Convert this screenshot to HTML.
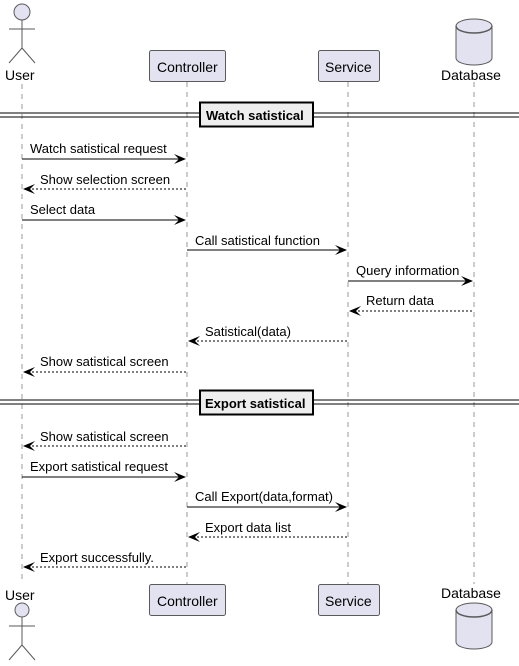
<!DOCTYPE html>
<html><head><meta charset="utf-8"><style>
html,body{margin:0;padding:0;background:#fff}
svg{display:block}
text{font-family:"Liberation Sans",sans-serif;font-size:13px;fill:#000}
.ll{stroke:#555;stroke-width:0.6;stroke-dasharray:5,5}
.box{fill:#e2e2f0;stroke:#5a5a5a;stroke-width:1}
.m{stroke:#000;stroke-width:1}
.d{stroke:#000;stroke-width:1;stroke-dasharray:2,2}
</style></head><body>
<svg width="519" height="666" viewBox="0 0 519 666" xmlns="http://www.w3.org/2000/svg">
<line class="ll" x1="22" y1="84" x2="22" y2="584"/>
<line class="ll" x1="187" y1="82" x2="187" y2="584"/>
<line class="ll" x1="348" y1="82" x2="348" y2="584"/>
<line class="ll" x1="474" y1="82" x2="474" y2="584"/>

<circle cx="22" cy="12" r="8" class="box"/>
<line x1="22" y1="20" x2="22" y2="48" stroke="#5a5a5a"/>
<line x1="9" y1="29" x2="35" y2="29" stroke="#5a5a5a"/>
<line x1="22" y1="48" x2="9" y2="63" stroke="#5a5a5a"/>
<line x1="22" y1="48" x2="35" y2="63" stroke="#5a5a5a"/>
<text x="5" y="80" style="font-size:14px">User</text>
<rect x="149.5" y="50.5" width="76" height="31" rx="2" class="box"/>
<text x="157" y="72" style="font-size:14px">Controller</text>
<rect x="318.5" y="50.5" width="61" height="31" rx="2" class="box"/>
<text x="325" y="72" style="font-size:14px">Service</text>
<path d="M456,26 a18,7 0 0 1 36,0 v32 a18,7 0 0 1 -36,0 z" class="box" stroke-width="1.5"/>
<path d="M456,26 a18,7 0 0 0 36,0" fill="none" stroke="#5a5a5a" stroke-width="1.5"/>
<text x="441" y="80" style="font-size:14px">Database</text>

<text x="5" y="600" style="font-size:14px">User</text>
<circle cx="22" cy="610" r="7" class="box"/>
<line x1="22" y1="617" x2="22" y2="645" stroke="#5a5a5a"/>
<line x1="9" y1="626" x2="35" y2="626" stroke="#5a5a5a"/>
<line x1="22" y1="645" x2="9" y2="660" stroke="#5a5a5a"/>
<line x1="22" y1="645" x2="35" y2="660" stroke="#5a5a5a"/>
<rect x="149.5" y="584.5" width="76" height="31" rx="2" class="box"/>
<text x="157" y="606" style="font-size:14px">Controller</text>
<rect x="318.5" y="584.5" width="61" height="31" rx="2" class="box"/>
<text x="325" y="606" style="font-size:14px">Service</text>
<text x="441" y="598" style="font-size:14px">Database</text>
<path d="M456,610 a18,7 0 0 1 36,0 v32 a18,7 0 0 1 -36,0 z" class="box" stroke-width="1.5"/>
<path d="M456,610 a18,7 0 0 0 36,0" fill="none" stroke="#5a5a5a" stroke-width="1.5"/>

<line x1="0" y1="113" x2="519" y2="113" stroke="#000"/>
<line x1="0" y1="117" x2="519" y2="117" stroke="#000"/>
<rect x="200" y="102.5" width="113" height="24" fill="#eee" stroke="#000" stroke-width="2"/>
<text x="206" y="120" style="font-weight:bold;font-size:13px">Watch satistical</text>
<line x1="0" y1="400" x2="519" y2="400" stroke="#000"/>
<line x1="0" y1="404" x2="519" y2="404" stroke="#000"/>
<rect x="200" y="390.5" width="113" height="24" fill="#eee" stroke="#000" stroke-width="2"/>
<text x="205" y="408" style="font-weight:bold;font-size:13px">Export satistical</text>

<g>
<line class="m" x1="22" y1="159" x2="185" y2="159"/><path d="M174,154 L186,159 L174,164 L179,159z"/>
<text x="30" y="153">Watch satistical request</text>

<line class="d" x1="24" y1="189" x2="187" y2="189"/><path d="M35,184 L23,189 L35,194 L30,189z"/>
<text x="40" y="184">Show selection screen</text>

<line class="m" x1="22" y1="220" x2="185" y2="220"/><path d="M174,215 L186,220 L174,225 L179,220z"/>
<text x="30" y="214">Select data</text>

<line class="m" x1="187" y1="250" x2="346" y2="250"/><path d="M335,245 L347,250 L335,255 L340,250z"/>
<text x="195" y="245">Call satistical function</text>

<line class="m" x1="348" y1="281" x2="472" y2="281"/><path d="M461,276 L473,281 L461,286 L466,281z"/>
<text x="356" y="275">Query information</text>

<line class="d" x1="350" y1="311" x2="474" y2="311"/><path d="M361,306 L349,311 L361,316 L356,311z"/>
<text x="366" y="305">Return data</text>

<line class="d" x1="189" y1="341" x2="348" y2="341"/><path d="M200,336 L188,341 L200,346 L195,341z"/>
<text x="205" y="336">Satistical(data)</text>

<line class="d" x1="24" y1="372" x2="187" y2="372"/><path d="M35,367 L23,372 L35,377 L30,372z"/>
<text x="40" y="366">Show satistical screen</text>

<line class="d" x1="24" y1="446" x2="187" y2="446"/><path d="M35,441 L23,446 L35,451 L30,446z"/>
<text x="40" y="441">Show satistical screen</text>

<line class="m" x1="22" y1="477" x2="185" y2="477"/><path d="M174,472 L186,477 L174,482 L179,477z"/>
<text x="30" y="471">Export satistical request</text>

<line class="m" x1="187" y1="507" x2="346" y2="507"/><path d="M335,502 L347,507 L335,512 L340,507z"/>
<text x="195" y="501">Call Export(data,format)</text>

<line class="d" x1="189" y1="537" x2="348" y2="537"/><path d="M200,532 L188,537 L200,542 L195,537z"/>
<text x="205" y="532">Export data list</text>

<line class="d" x1="24" y1="567" x2="187" y2="567"/><path d="M35,562 L23,567 L35,572 L30,567z"/>
<text x="40" y="562">Export successfully.</text>
</g>
</svg>
</body></html>
